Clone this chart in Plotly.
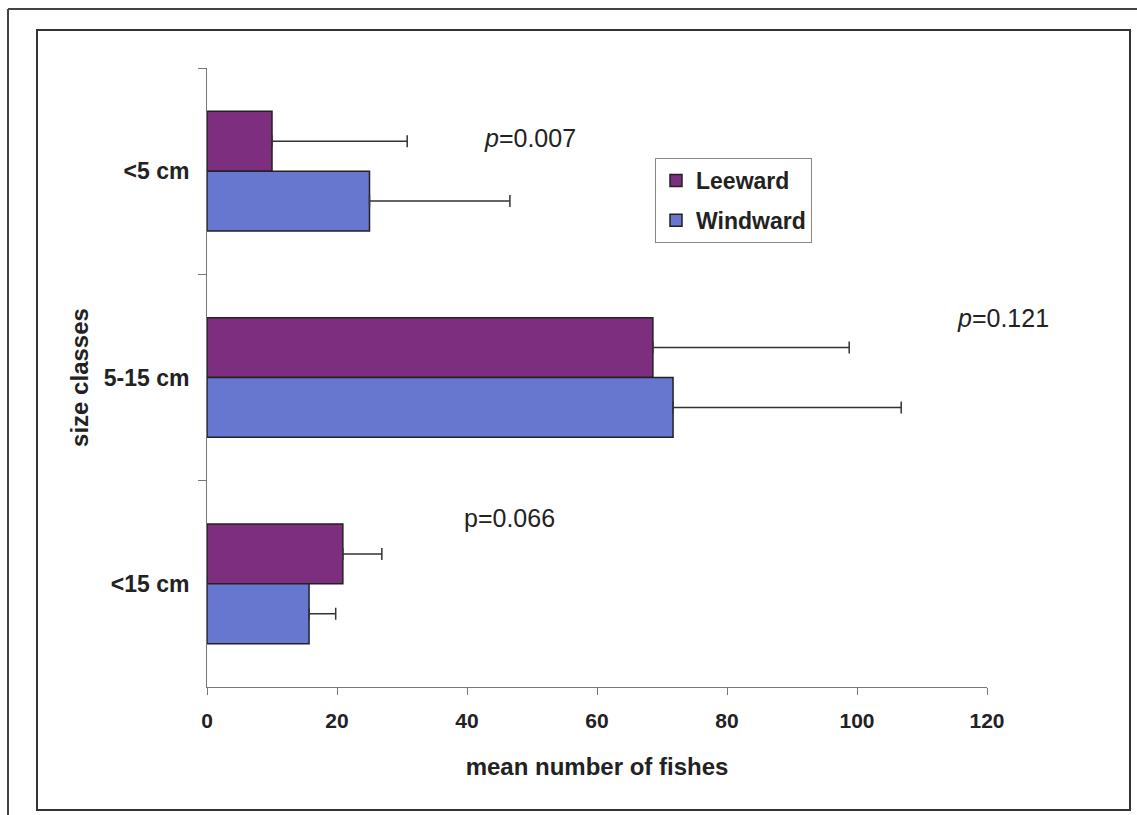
import plotly.graph_objects as go

# Mean number of fishes per size class, leeward vs windward reefs
size_classes = ["<5 cm", "5-15 cm", "<15 cm"]
leeward_mean = [10.0, 68.6, 20.9]
leeward_err = [20.8, 30.2, 6.0]
windward_mean = [25.0, 71.7, 15.7]
windward_err = [21.6, 35.1, 4.1]

x_ticks = [0, 20, 40, 60, 80, 100, 120]
X_MAX = 120
p_labels = ["<i>p</i>=0.007", "<i>p</i>=0.121", "p=0.066"]
p_x = [49.7, 122.5, 46.5]
p_y = [-0.16, 0.71, 1.68]

W, H = 1137, 815
ML, MR, MT, MB = 207, 150, 68, 128
PW, PH = W - ML - MR, H - MT - MB


def px_x(x):
    return (x - ML) / PW


def px_y(y):
    return (H - MB - y) / PH


FONT = "Arial, Liberation Sans, sans-serif"
LEE = "#7D2E7E"
WIN = "#6777D0"

fig = go.Figure()
fig.add_trace(go.Bar(
    name="Leeward", y=size_classes, x=leeward_mean, orientation="h",
    legendgroup="lee",
    marker=dict(color=LEE, line=dict(color="#222222", width=1.5)),
    error_x=dict(type="data", array=leeward_err, arrayminus=[0] * 3,
                 symmetric=False, color="#333333", thickness=1.5, width=6),
))
fig.add_trace(go.Bar(
    name="Windward", y=size_classes, x=windward_mean, orientation="h",
    legendgroup="win",
    marker=dict(color=WIN, line=dict(color="#222222", width=1.5)),
    error_x=dict(type="data", array=windward_err, arrayminus=[0] * 3,
                 symmetric=False, color="#333333", thickness=1.5, width=6),
))

# significance labels; x positions converted from data units to the axis domain
for txt, xv, yv in zip(p_labels, p_x, p_y):
    fig.add_annotation(x=xv / X_MAX, y=yv, xref="x domain", yref="y", text=txt,
                       showarrow=False, xanchor="center", yanchor="middle",
                       font=dict(family=FONT, size=25, color="#222222"))

# frame lines around the chart
frame = dict(type="line", xref="paper", yref="paper",
             line=dict(color="#444444", width=2))
fig.add_shape(**frame, x0=px_x(8), x1=px_x(W + 5), y0=px_y(9), y1=px_y(9))
fig.add_shape(**frame, x0=px_x(8), x1=px_x(8), y0=px_y(9), y1=px_y(H + 5))
fig.add_shape(type="rect", xref="paper", yref="paper",
              x0=px_x(37), x1=px_x(1130), y0=px_y(30), y1=px_y(810),
              line=dict(color="#333333", width=2), fillcolor="rgba(0,0,0,0)")

fig.update_layout(
    width=W, height=H,
    margin=dict(l=ML, r=MR, t=MT, b=MB),
    paper_bgcolor="white", plot_bgcolor="white",
    barmode="group", bargap=0.42, bargroupgap=0,
    font=dict(family=FONT, color="#222222"),
    showlegend=True,
    legend=dict(x=px_x(655), y=px_y(158), xanchor="left", yanchor="top",
                bgcolor="white", bordercolor="#888888", borderwidth=1,
                font=dict(family=FONT, size=23, weight=700, color="#222222"),
                tracegroupgap=7, itemwidth=30),
    xaxis=dict(range=[0, X_MAX], tickvals=x_ticks, ticks="outside", ticklen=7,
               tickcolor="#777777", showline=True, linecolor="#777777",
               linewidth=1, showgrid=False, zeroline=False,
               ticklabelstandoff=8,
               tickfont=dict(family=FONT, size=21, weight=700),
               title=dict(text="mean number of fishes", standoff=26,
                          font=dict(family=FONT, size=24, weight=700))),
    yaxis=dict(categoryorder="array", categoryarray=size_classes,
               autorange="reversed", tickson="boundaries", ticks="outside",
               ticklen=8, tickcolor="#777777", showline=True,
               linecolor="#777777", linewidth=1, showgrid=False,
               ticklabelstandoff=12,
               tickfont=dict(family=FONT, size=23, weight=700),
               title=dict(text="size classes", standoff=8,
                          font=dict(family=FONT, size=24, weight=700))),
)

fig.write_html("out.html")
